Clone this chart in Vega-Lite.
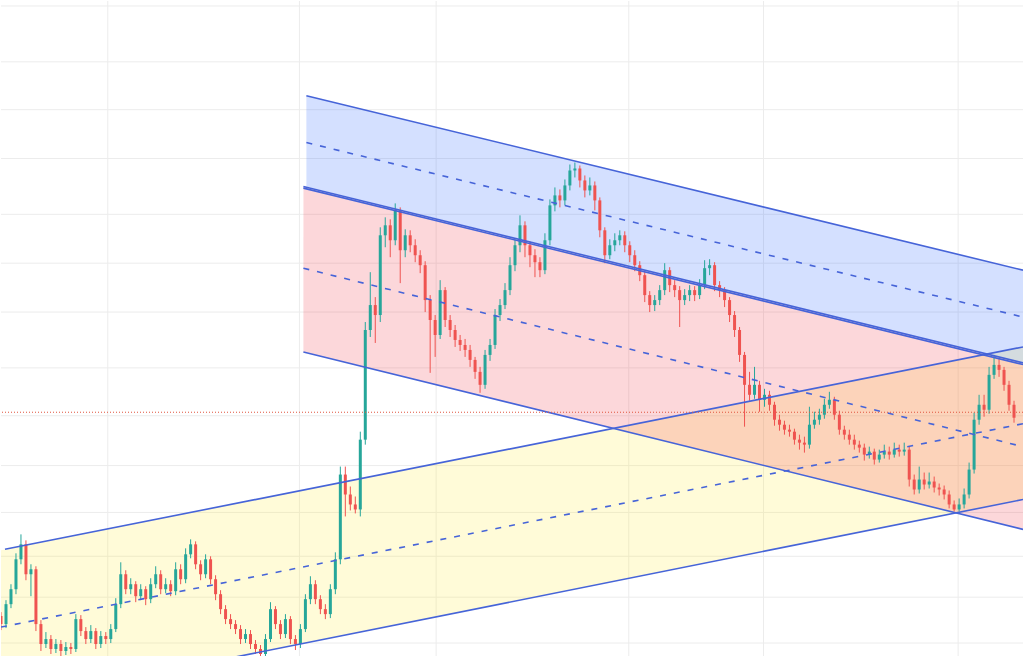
{
  "$schema": "https://vega.github.io/schema/vega-lite/v6.json",
  "width": 1024,
  "height": 657,
  "autosize": {"type": "fit", "contains": "padding"},
  "padding": 0,
  "background": "#ffffff",
  "config": {"view": {"stroke": null}, "scale": {"continuousPadding": 0}},
  "datasets": {
    "candles": [
      {"t":0,"o":40,"h":44,"l":26,"c":32},{"t":5,"o":32,"h":56,"l":28,"c":52},{"t":10,"o":52,"h":72,"l":48,"c":67},{"t":15,"o":67,"h":103,"l":62,"c":97},
      {"t":20,"o":97,"h":122,"l":92,"c":112},{"t":25,"o":112,"h":116,"l":76,"c":82},{"t":30,"o":82,"h":92,"l":60,"c":87},{"t":35,"o":87,"h":90,"l":25,"c":32},
      {"t":40,"o":32,"h":36,"l":5,"c":12},{"t":45,"o":12,"h":24,"l":8,"c":17},{"t":50,"o":17,"h":21,"l":2,"c":7},{"t":55,"o":7,"h":17,"l":3,"c":12},
      {"t":60,"o":12,"h":16,"l":0,"c":5},{"t":65,"o":5,"h":14,"l":1,"c":9},{"t":70,"o":9,"h":13,"l":2,"c":7},{"t":75,"o":7,"h":42,"l":4,"c":37},
      {"t":80,"o":37,"h":41,"l":20,"c":25},{"t":85,"o":25,"h":29,"l":12,"c":17},{"t":90,"o":17,"h":31,"l":13,"c":25},{"t":95,"o":25,"h":28,"l":7,"c":12},
      {"t":100,"o":12,"h":25,"l":8,"c":20},{"t":105,"o":20,"h":24,"l":12,"c":17},{"t":110,"o":17,"h":32,"l":13,"c":27},{"t":115,"o":27,"h":58,"l":24,"c":52},
      {"t":120,"o":52,"h":94,"l":48,"c":82},{"t":125,"o":82,"h":86,"l":62,"c":67},{"t":130,"o":67,"h":78,"l":62,"c":72},{"t":135,"o":72,"h":75,"l":54,"c":60},
      {"t":140,"o":60,"h":72,"l":56,"c":67},{"t":145,"o":67,"h":70,"l":51,"c":57},{"t":150,"o":57,"h":78,"l":53,"c":72},{"t":155,"o":72,"h":90,"l":68,"c":82},
      {"t":160,"o":82,"h":86,"l":62,"c":67},{"t":165,"o":67,"h":78,"l":63,"c":72},{"t":170,"o":72,"h":76,"l":60,"c":65},{"t":175,"o":65,"h":94,"l":61,"c":87},
      {"t":180,"o":87,"h":92,"l":72,"c":77},{"t":185,"o":77,"h":108,"l":73,"c":102},{"t":190,"o":102,"h":117,"l":98,"c":112},{"t":195,"o":112,"h":115,"l":87,"c":92},
      {"t":200,"o":92,"h":96,"l":76,"c":82},{"t":205,"o":82,"h":102,"l":78,"c":97},{"t":210,"o":97,"h":100,"l":72,"c":77},{"t":215,"o":77,"h":81,"l":56,"c":62},
      {"t":220,"o":62,"h":66,"l":42,"c":47},{"t":225,"o":47,"h":51,"l":32,"c":37},{"t":230,"o":37,"h":42,"l":27,"c":32},{"t":235,"o":32,"h":36,"l":22,"c":27},
      {"t":240,"o":27,"h":31,"l":12,"c":17},{"t":245,"o":17,"h":27,"l":13,"c":22},{"t":250,"o":22,"h":26,"l":7,"c":12},{"t":255,"o":12,"h":16,"l":2,"c":7},
      {"t":260,"o":7,"h":11,"l":0,"c":2},{"t":265,"o":2,"h":22,"l":0,"c":17},{"t":270,"o":17,"h":54,"l":14,"c":47},{"t":275,"o":47,"h":50,"l":27,"c":32},
      {"t":280,"o":32,"h":36,"l":17,"c":22},{"t":285,"o":22,"h":42,"l":18,"c":37},{"t":290,"o":37,"h":40,"l":12,"c":17},{"t":295,"o":17,"h":21,"l":6,"c":12},
      {"t":300,"o":12,"h":32,"l":8,"c":27},{"t":305,"o":27,"h":62,"l":24,"c":57},{"t":310,"o":57,"h":80,"l":52,"c":72},{"t":315,"o":72,"h":76,"l":52,"c":57},
      {"t":320,"o":57,"h":61,"l":42,"c":47},{"t":325,"o":47,"h":52,"l":37,"c":42},{"t":330,"o":42,"h":72,"l":38,"c":67},{"t":335,"o":67,"h":104,"l":62,"c":97},
      {"t":340,"o":97,"h":190,"l":92,"c":182},{"t":345,"o":182,"h":190,"l":140,"c":162},{"t":350,"o":162,"h":170,"l":146,"c":152},{"t":355,"o":152,"h":160,"l":143,"c":147},
      {"t":360,"o":147,"h":225,"l":140,"c":217},{"t":365,"o":217,"h":335,"l":212,"c":327},{"t":370,"o":327,"h":385,"l":320,"c":352},{"t":375,"o":352,"h":360,"l":314,"c":342},
      {"t":380,"o":342,"h":430,"l":335,"c":422},{"t":385,"o":422,"h":440,"l":410,"c":432},{"t":390,"o":432,"h":438,"l":400,"c":417},{"t":395,"o":417,"h":454,"l":412,"c":447},
      {"t":400,"o":447,"h":450,"l":374,"c":407},{"t":405,"o":407,"h":428,"l":400,"c":422},{"t":410,"o":422,"h":427,"l":405,"c":412},{"t":415,"o":412,"h":418,"l":395,"c":402},
      {"t":420,"o":402,"h":407,"l":384,"c":392},{"t":425,"o":392,"h":396,"l":345,"c":357},{"t":430,"o":357,"h":362,"l":284,"c":337},{"t":435,"o":337,"h":342,"l":300,"c":322},
      {"t":440,"o":322,"h":377,"l":318,"c":367},{"t":445,"o":367,"h":370,"l":330,"c":337},{"t":450,"o":337,"h":342,"l":320,"c":327},{"t":455,"o":327,"h":332,"l":310,"c":317},
      {"t":460,"o":317,"h":322,"l":306,"c":312},{"t":465,"o":312,"h":318,"l":300,"c":307},{"t":470,"o":307,"h":312,"l":290,"c":297},{"t":475,"o":297,"h":300,"l":278,"c":285},
      {"t":480,"o":285,"h":290,"l":264,"c":272},{"t":485,"o":272,"h":307,"l":268,"c":302},{"t":490,"o":302,"h":318,"l":296,"c":312},{"t":495,"o":312,"h":348,"l":308,"c":342},
      {"t":500,"o":342,"h":358,"l":336,"c":352},{"t":505,"o":352,"h":374,"l":348,"c":367},{"t":510,"o":367,"h":400,"l":362,"c":392},{"t":515,"o":392,"h":418,"l":386,"c":412},
      {"t":520,"o":412,"h":442,"l":405,"c":432},{"t":525,"o":432,"h":436,"l":400,"c":412},{"t":530,"o":412,"h":416,"l":390,"c":402},{"t":535,"o":402,"h":408,"l":380,"c":395},
      {"t":540,"o":395,"h":400,"l":380,"c":387},{"t":545,"o":387,"h":424,"l":383,"c":417},{"t":550,"o":417,"h":458,"l":412,"c":452},{"t":555,"o":452,"h":470,"l":446,"c":462},
      {"t":560,"o":462,"h":468,"l":450,"c":457},{"t":565,"o":457,"h":478,"l":452,"c":472},{"t":570,"o":472,"h":493,"l":467,"c":487},{"t":575,"o":487,"h":495,"l":480,"c":489},
      {"t":580,"o":489,"h":492,"l":470,"c":477},{"t":585,"o":477,"h":482,"l":460,"c":467},{"t":590,"o":467,"h":480,"l":462,"c":472},{"t":595,"o":472,"h":476,"l":447,"c":457},
      {"t":600,"o":457,"h":460,"l":420,"c":427},{"t":605,"o":427,"h":430,"l":394,"c":402},{"t":610,"o":402,"h":418,"l":398,"c":412},{"t":615,"o":412,"h":424,"l":406,"c":417},
      {"t":620,"o":417,"h":427,"l":412,"c":422},{"t":625,"o":422,"h":426,"l":405,"c":412},{"t":630,"o":412,"h":416,"l":395,"c":402},{"t":635,"o":402,"h":407,"l":386,"c":392},
      {"t":640,"o":392,"h":396,"l":376,"c":382},{"t":645,"o":382,"h":386,"l":355,"c":362},{"t":650,"o":362,"h":366,"l":345,"c":352},{"t":655,"o":352,"h":362,"l":346,"c":357},
      {"t":660,"o":357,"h":372,"l":352,"c":367},{"t":665,"o":367,"h":394,"l":362,"c":387},{"t":670,"o":387,"h":390,"l":365,"c":372},{"t":675,"o":372,"h":377,"l":360,"c":367},
      {"t":680,"o":367,"h":371,"l":330,"c":357},{"t":685,"o":357,"h":368,"l":352,"c":362},{"t":690,"o":362,"h":372,"l":356,"c":367},{"t":695,"o":367,"h":371,"l":356,"c":362},
      {"t":700,"o":362,"h":378,"l":358,"c":372},{"t":705,"o":372,"h":397,"l":368,"c":389},{"t":710,"o":389,"h":398,"l":382,"c":392},{"t":715,"o":392,"h":395,"l":366,"c":372},
      {"t":720,"o":372,"h":376,"l":360,"c":367},{"t":725,"o":367,"h":370,"l":350,"c":357},{"t":730,"o":357,"h":360,"l":335,"c":342},{"t":735,"o":342,"h":346,"l":320,"c":327},
      {"t":740,"o":327,"h":330,"l":295,"c":302},{"t":745,"o":302,"h":305,"l":230,"c":272},{"t":750,"o":272,"h":285,"l":256,"c":262},{"t":755,"o":262,"h":290,"l":258,"c":272},
      {"t":760,"o":272,"h":276,"l":245,"c":257},{"t":765,"o":257,"h":268,"l":250,"c":262},{"t":770,"o":262,"h":266,"l":246,"c":252},{"t":775,"o":252,"h":255,"l":231,"c":237},
      {"t":780,"o":237,"h":242,"l":226,"c":232},{"t":785,"o":232,"h":236,"l":222,"c":227},{"t":790,"o":227,"h":232,"l":220,"c":225},{"t":795,"o":225,"h":228,"l":212,"c":217},
      {"t":800,"o":217,"h":222,"l":207,"c":214},{"t":805,"o":214,"h":220,"l":204,"c":212},{"t":810,"o":212,"h":250,"l":208,"c":232},{"t":815,"o":232,"h":245,"l":228,"c":237},
      {"t":820,"o":237,"h":248,"l":232,"c":242},{"t":825,"o":242,"h":258,"l":238,"c":252},{"t":830,"o":252,"h":265,"l":248,"c":257},{"t":835,"o":257,"h":260,"l":237,"c":242},
      {"t":840,"o":242,"h":246,"l":222,"c":227},{"t":845,"o":227,"h":231,"l":217,"c":222},{"t":850,"o":222,"h":227,"l":212,"c":217},{"t":855,"o":217,"h":222,"l":207,"c":212},
      {"t":860,"o":212,"h":216,"l":204,"c":209},{"t":865,"o":209,"h":213,"l":196,"c":202},{"t":870,"o":202,"h":210,"l":198,"c":205},{"t":875,"o":205,"h":208,"l":192,"c":197},
      {"t":880,"o":197,"h":207,"l":194,"c":202},{"t":885,"o":202,"h":212,"l":198,"c":205},{"t":890,"o":205,"h":210,"l":197,"c":202},{"t":895,"o":202,"h":214,"l":199,"c":207},
      {"t":900,"o":207,"h":212,"l":200,"c":205},{"t":905,"o":205,"h":214,"l":201,"c":207},{"t":910,"o":207,"h":210,"l":170,"c":177},{"t":915,"o":177,"h":182,"l":162,"c":167},
      {"t":920,"o":167,"h":190,"l":163,"c":177},{"t":925,"o":177,"h":184,"l":167,"c":172},{"t":930,"o":172,"h":184,"l":168,"c":175},{"t":935,"o":175,"h":180,"l":164,"c":169},
      {"t":940,"o":169,"h":173,"l":161,"c":167},{"t":945,"o":167,"h":171,"l":157,"c":162},{"t":950,"o":162,"h":166,"l":148,"c":152},{"t":955,"o":152,"h":156,"l":145,"c":147},
      {"t":960,"o":147,"h":158,"l":145,"c":152},{"t":965,"o":152,"h":168,"l":148,"c":162},{"t":970,"o":162,"h":194,"l":158,"c":187},{"t":975,"o":187,"h":244,"l":183,"c":237},
      {"t":980,"o":237,"h":262,"l":232,"c":252},{"t":985,"o":252,"h":262,"l":240,"c":247},{"t":990,"o":247,"h":290,"l":243,"c":282},{"t":995,"o":282,"h":302,"l":278,"c":292},
      {"t":1000,"o":292,"h":298,"l":280,"c":287},{"t":1005,"o":287,"h":290,"l":266,"c":272},{"t":1010,"o":272,"h":276,"l":246,"c":252},{"t":1015,"o":252,"h":256,"l":234,"c":239}
    ],
    "areas": [
      {"k":"yellow","t":0,"top":106,"bot":-48},{"k":"yellow","t":1024,"top":310,"bot":157},
      {"k":"pink","t":303,"top":471,"bot":305},{"k":"pink","t":1024,"top":294,"bot":127},
      {"k":"blue","t":306,"top":562,"bot":471},{"k":"blue","t":1024,"top":387,"bot":294}
    ],
    "solid": [
      {"k":"blueU","t":306,"p":562},{"k":"blueU","t":1024,"p":387},
      {"k":"blueL","t":303,"p":471},{"k":"blueL","t":1024,"p":294},
      {"k":"pinkU","t":303,"p":469.3},{"k":"pinkU","t":1024,"p":292.3},
      {"k":"pinkL","t":303,"p":305},{"k":"pinkL","t":1024,"p":127},
      {"k":"yelU","t":4,"p":107},{"k":"yelU","t":1024,"p":310},
      {"k":"yelL","t":0,"p":-48},{"k":"yelL","t":1024,"p":157}
    ],
    "dashed": [
      {"k":"blueM","t":306,"p":515},{"k":"blueM","t":1024,"p":340},
      {"k":"pinkM","t":303,"p":389},{"k":"pinkM","t":1024,"p":210},
      {"k":"yelM","t":0,"p":29},{"k":"yelM","t":1024,"p":233}
    ],
    "vgrid": [{"t":107},{"t":299},{"t":436},{"t":629},{"t":764},{"t":959}],
    "hgrid": [{"p":652},{"p":596},{"p":548},{"p":499},{"p":443},{"p":394},{"p":345},{"p":289},{"p":241},{"p":191},{"p":144},{"p":100},{"p":59},{"p":13}],
    "last": [{"p":244.5}]
  },
  "layer": [
    {
      "data": {"name": "vgrid"},
      "mark": {"type": "rule", "strokeWidth": 1, "color": "#ececec"},
      "encoding": {
        "x": {"field": "t", "type": "quantitative", "scale": {"domain": [0, 1024], "nice": false, "zero": false, "padding": 0}, "axis": null}
      }
    },
    {
      "data": {"name": "hgrid"},
      "mark": {"type": "rule", "strokeWidth": 1, "color": "#ececec"},
      "encoding": {
        "y": {"field": "p", "type": "quantitative", "scale": {"domain": [0, 657], "nice": false, "zero": false, "padding": 0}, "axis": null}
      }
    },
    {
      "data": {"name": "areas"},
      "mark": {"type": "area", "opacity": 0.2, "clip": true},
      "encoding": {
        "x": {"field": "t", "type": "quantitative"},
        "y": {"field": "top", "type": "quantitative", "stack": null},
        "y2": {"field": "bot"},
        "color": {"field": "k", "type": "nominal", "legend": null,
                  "scale": {"domain": ["yellow", "pink", "blue"], "range": ["#ffeb3b", "#f23645", "#2962ff"]}}
      }
    },
    {
      "data": {"name": "candles"},
      "mark": {"type": "rule", "strokeWidth": 1, "clip": true},
      "encoding": {
        "x": {"field": "t", "type": "quantitative"},
        "y": {"field": "l", "type": "quantitative"},
        "y2": {"field": "h"},
        "color": {"condition": {"test": "datum.c >= datum.o", "value": "#26a69a"}, "value": "#ef5350"}
      }
    },
    {
      "data": {"name": "candles"},
      "mark": {"type": "bar", "size": 3, "clip": true},
      "encoding": {
        "x": {"field": "t", "type": "quantitative"},
        "y": {"field": "o", "type": "quantitative"},
        "y2": {"field": "c"},
        "color": {"condition": {"test": "datum.c >= datum.o", "value": "#26a69a"}, "value": "#ef5350"}
      }
    },
    {
      "data": {"name": "solid"},
      "mark": {"type": "line", "strokeWidth": 1.6, "color": "#4664d8", "clip": true},
      "encoding": {
        "x": {"field": "t", "type": "quantitative"},
        "y": {"field": "p", "type": "quantitative"},
        "detail": {"field": "k"}
      }
    },
    {
      "data": {"name": "dashed"},
      "mark": {"type": "line", "strokeWidth": 1.6, "color": "#4664d8", "strokeDash": [6, 8], "clip": true},
      "encoding": {
        "x": {"field": "t", "type": "quantitative"},
        "y": {"field": "p", "type": "quantitative"},
        "detail": {"field": "k"}
      }
    },
    {
      "data": {"name": "last"},
      "mark": {"type": "rule", "strokeWidth": 1, "color": "#e0533d", "strokeDash": [1, 2]},
      "encoding": {
        "y": {"field": "p", "type": "quantitative"}
      }
    }
  ]
}
